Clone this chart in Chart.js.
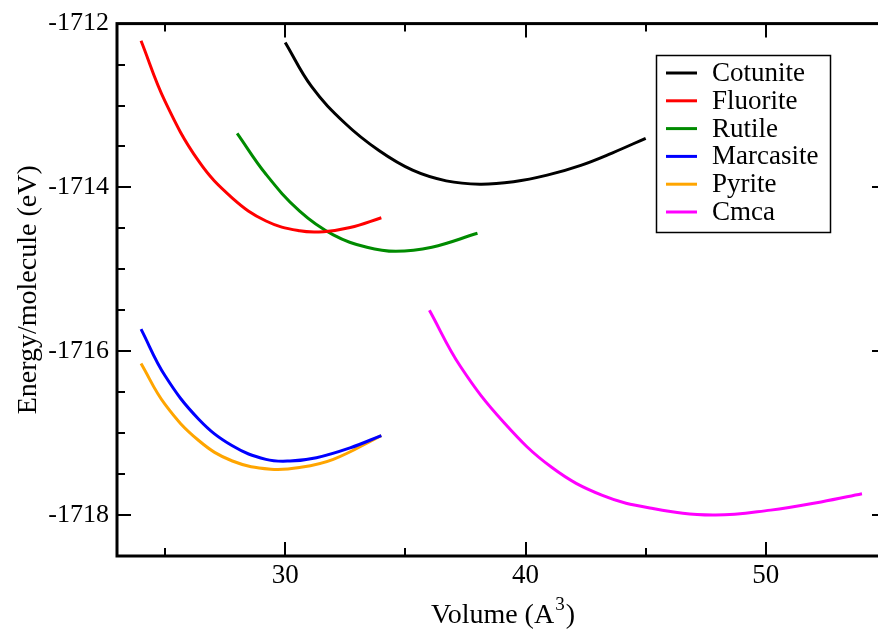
<!DOCTYPE html>
<html>
<head>
<meta charset="utf-8">
<script src="https://cdn.jsdelivr.net/npm/chart.js@4.4.0/dist/chart.umd.min.js"></script>
<style>
  html, body { margin: 0; padding: 0; background: #fff; overflow: hidden; }
  canvas { display: block; }
</style>
</head>
<body>
<canvas id="myChart" width="890" height="630"></canvas>
<script>
// volumes (A^3) and energies (eV)
const volCotunite = [30.0, 31.1, 32.5, 33.9, 35.3, 36.7, 38.1, 39.5, 40.9, 42.3, 43.6, 45.0];
const eCotunite = [-1712.23, -1712.77, -1713.22, -1713.55, -1713.79, -1713.92, -1713.96, -1713.93, -1713.85, -1713.73, -1713.58, -1713.40];

const volFluorite = [24.0, 25.0, 26.4, 27.8, 29.2, 30.6, 31.6, 32.7, 34.0];
const eFluorite = [-1712.21, -1712.95, -1713.68, -1714.13, -1714.41, -1714.53, -1714.54, -1714.49, -1714.37];

const volRutile = [28.0, 29.2, 30.6, 32.0, 33.4, 34.6, 36.1, 38.0];
const eRutile = [-1713.34, -1713.84, -1714.29, -1714.58, -1714.73, -1714.78, -1714.73, -1714.56];

const volMarcasite = [24.0, 25.0, 26.4, 27.8, 29.2, 30.2, 31.3, 32.7, 34.0];
const eMarcasite = [-1715.73, -1716.30, -1716.83, -1717.155, -1717.32, -1717.34, -1717.30, -1717.18, -1717.03];

const volPyrite = [24.0, 25.0, 26.4, 27.8, 29.4, 30.6, 32.0, 34.0];
const ePyrite = [-1716.15, -1716.65, -1717.09, -1717.34, -1717.44, -1717.42, -1717.32, -1717.03];

const volCmca = [36.0, 37.3, 39.1, 41.1, 43.2, 45.3, 47.8, 50.2, 52.3, 54.0];
const eCmca = [-1715.50, -1716.19, -1716.87, -1717.42, -1717.76, -1717.92, -1718.00, -1717.94, -1717.84, -1717.74];

const xTicks = [30, 40, 50];
const yTicks = [-1718, -1716, -1714, -1712];

const serif = '"Liberation Serif", "Times New Roman", serif';

// juntar x e y en puntos
const puntos = (xs, ys) => xs.map((x, i) => ({ x: x, y: ys[i] }));

const serie = (label, xs, ys, color) => ({
  label: label,
  data: puntos(xs, ys),
  borderColor: color,
  backgroundColor: color,
  borderWidth: 3,
  pointRadius: 0,
  fill: false,
  tension: 0.4
});

// ejes con ticks hacia adentro, marco y titulo del eje x con superindice
const marco = {
  id: 'marco',
  afterDatasetsDraw(chart) {
    const ctx = chart.ctx;
    const { left, right, top, bottom } = chart.chartArea;
    const xs = chart.scales.x, ys = chart.scales.y;
    ctx.save();
    ctx.strokeStyle = '#000';
    ctx.lineWidth = 2;
    ctx.beginPath();
    for (let v = 25; v <= 55; v += 5) {
      const px = Math.round(xs.getPixelForValue(v));
      const len = v % 10 === 0 ? 14 : 8;
      ctx.moveTo(px, bottom); ctx.lineTo(px, bottom - len);
      ctx.moveTo(px, top); ctx.lineTo(px, top + len);
    }
    for (let v = -1718.5; v <= -1712; v += 0.5) {
      const py = Math.round(ys.getPixelForValue(v));
      const len = v % 2 === 0 ? 14 : 8;
      ctx.moveTo(left, py); ctx.lineTo(left + len, py);
      ctx.moveTo(right, py); ctx.lineTo(right - len, py);
    }
    ctx.stroke();
    ctx.lineWidth = 3;
    ctx.strokeRect(left, top, right - left, bottom - top);

    // Volume (A^3)
    ctx.fillStyle = '#000';
    ctx.textBaseline = 'alphabetic';
    ctx.font = '28px ' + serif;
    const a = 'Volume (A', b = '3', c = ')';
    const wa = ctx.measureText(a).width, wc = ctx.measureText(c).width;
    ctx.font = '19px ' + serif;
    const wb = ctx.measureText(b).width;
    let x0 = 503 - (wa + wb + wc + 2) / 2;
    const base = 623;
    ctx.font = '28px ' + serif;
    ctx.fillText(a, x0, base);
    ctx.font = '19px ' + serif;
    ctx.fillText(b, x0 + wa + 1, base - 13);
    ctx.font = '28px ' + serif;
    ctx.fillText(c, x0 + wa + wb + 2, base);
    ctx.restore();
  }
};

// leyenda con caja
const leyenda = {
  id: 'leyenda',
  afterDraw(chart) {
    const ctx = chart.ctx;
    ctx.save();
    ctx.fillStyle = '#fff';
    ctx.fillRect(656, 55, 174, 177);
    ctx.strokeStyle = '#000';
    ctx.lineWidth = 1.5;
    ctx.strokeRect(656.5, 55.5, 174, 177);
    ctx.font = '27px ' + serif;
    ctx.textBaseline = 'middle';
    chart.data.datasets.forEach((ds, i) => {
      const y = 73 + i * 27.8;
      ctx.strokeStyle = ds.borderColor;
      ctx.lineWidth = 3;
      ctx.beginPath();
      ctx.moveTo(666, y); ctx.lineTo(697, y);
      ctx.stroke();
      ctx.fillStyle = '#000';
      ctx.fillText(ds.label, 712, y + 1);
    });
    ctx.restore();
  }
};

const ctx = document.getElementById('myChart');

new Chart(ctx, {
  type: 'line',
  data: {
    datasets: [
      serie('Cotunite', volCotunite, eCotunite, '#000000'),
      serie('Fluorite', volFluorite, eFluorite, '#ff0000'),
      serie('Rutile', volRutile, eRutile, '#008b00'),
      serie('Marcasite', volMarcasite, eMarcasite, '#0000ff'),
      serie('Pyrite', volPyrite, ePyrite, '#ffa500'),
      serie('Cmca', volCmca, eCmca, '#ff00ff')
    ]
  },
  options: {
    responsive: false,
    animation: false,
    layout: { padding: { top: 17, right: 4, left: 0, bottom: 0 } },
    plugins: { legend: { display: false }, tooltip: { enabled: false } },
    scales: {
      x: {
        type: 'linear',
        min: 23,
        max: 55,
        afterBuildTicks: s => { s.ticks = xTicks.map(v => ({ value: v })); },
        afterFit: s => { s.height = 74; },
        grid: { display: false, drawTicks: false },
        border: { display: false },
        ticks: { color: '#000', font: { family: serif, size: 27 }, padding: 4, maxRotation: 0, autoSkip: false, callback: v => String(v) },
        title: { display: false }
      },
      y: {
        type: 'linear',
        min: -1718.5,
        max: -1712,
        afterBuildTicks: s => { s.ticks = yTicks.map(v => ({ value: v })); },
        afterFit: s => { s.width = 117; },
        grid: { display: false, drawTicks: false },
        border: { display: false },
        ticks: { color: '#000', font: { family: serif, size: 26 }, padding: 8, autoSkip: false, callback: v => String(v) },
        title: { display: true, text: 'Energy/molecule (eV)', color: '#000', font: { family: serif, size: 28 }, padding: { top: 12, bottom: 0 } }
      }
    }
  },
  plugins: [marco, leyenda]
});
</script>
</body>
</html>
